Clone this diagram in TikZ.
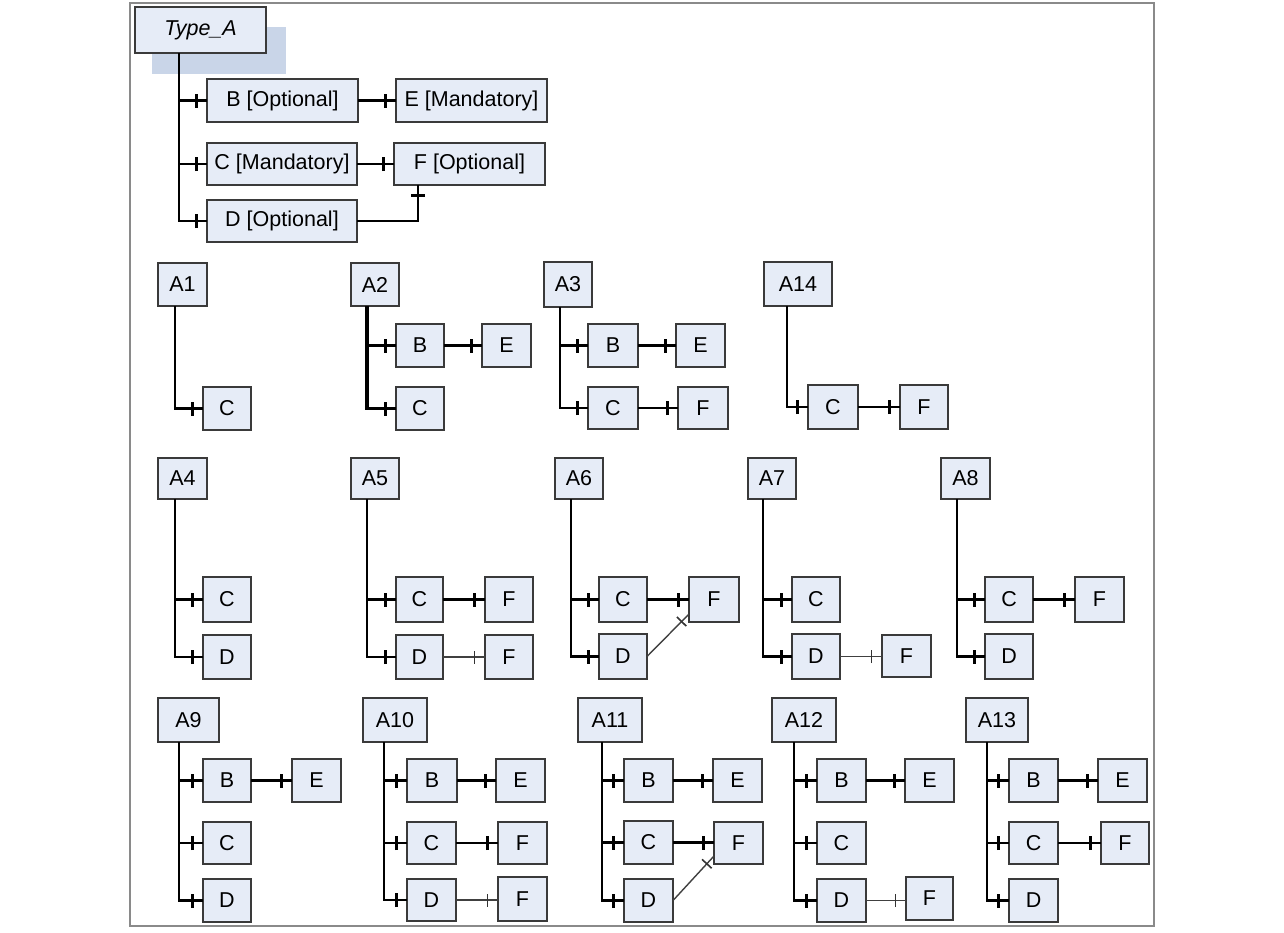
\documentclass[tikz,border=0pt]{standalone}
\usepackage{fontspec}
\setmainfont{Liberation Sans}
\usetikzlibrary{decorations.markings}
\definecolor{boxfill}{HTML}{E6ECF7}
\definecolor{boxline}{HTML}{3A3A3A}
\definecolor{shadowfill}{HTML}{C9D5E8}
\definecolor{framecol}{HTML}{8A8A8A}
\newcommand\boxfont{\fontsize{21.5}{25}\selectfont}
\newcommand\mybox[6]{\node[box,minimum width={(#4-#2)*1pt},minimum height={(#5-#3)*1pt}] (#1) at ({(#2+#4)/2},{(#3+#5)/2}) {#6};}
\tikzset{
  box/.style={draw=boxline, fill=boxfill, line width=1.8pt, inner sep=0pt, outer sep=0pt, font=\boxfont},
  link/.style={line width=2.6pt, black},
  thick link/.style={line width=3.6pt, black},
  thin link/.style={line width=1.4pt, black!75},
  tk/.style={postaction={decorate,decoration={markings,mark=at position -10.5pt with {\draw[line width=2.6pt,black] (0,-7pt)--(0,7pt);}}}},
  tkthin/.style={postaction={decorate,decoration={markings,mark=at position -10.5pt with {\draw[line width=1.6pt,black!80] (0,-6.5pt)--(0,6.5pt);}}}},
}
\begin{document}
\begin{tikzpicture}[x=1pt,y=-1pt]
\useasboundingbox (0,0) rectangle (1284,932);
\draw[framecol,line width=1.5pt] (130,3) rectangle (1154,926);

% ---------- Type_A ----------
\fill[shadowfill] (152,27) rectangle (286,74);
\mybox{t}{135}{7}{266}{53}{\itshape Type\_A}
\mybox{tb}{207}{79}{358}{122}{B [Optional]}
\mybox{te}{396}{79}{547}{122}{E [Mandatory]}
\mybox{tc}{207}{143}{357}{185}{C [Mandatory]}
\mybox{tf}{394}{143}{545}{185}{F [Optional]}
\mybox{td}{207}{200}{357}{242}{D [Optional]}
\draw[link,tk] ([xshift=44pt]t.south west) |- (tb.west);
\draw[link,tk] ([xshift=44pt]t.south west) |- (tc.west);
\draw[link,tk] ([xshift=44pt]t.south west) |- (td.west);
\draw[link,tk] (tb.east) -- (tb.east -| te.west);
\draw[link,tk] (tc.east) -- (tc.east -| tf.west);
\draw[link,tk] (td.east) -| ([xshift=24pt]tf.south west);

% ---------- A1 ----------
\mybox{a1}{158}{263}{207}{306}{A1}
\mybox{a1c}{203}{387}{251}{430}{C}
\draw[link,tk] ([xshift=17pt]a1.south west) |- (a1c.west);

% ---------- A2 ----------
\mybox{a2}{351}{263}{399}{306}{A2}
\mybox{a2b}{396}{324}{444}{367}{B}
\mybox{a2e}{482}{324}{531}{367}{E}
\mybox{a2c}{396}{387}{444}{430}{C}
\draw[thick link,tk] ([xshift=16pt]a2.south west) |- (a2b.west);
\draw[thick link,tk] ([xshift=16pt]a2.south west) |- (a2c.west);
\draw[link,tk] (a2b.east) -- (a2b.east -| a2e.west);

% ---------- A3 ----------
\mybox{a3}{544}{262}{592}{307}{A3}
\mybox{a3b}{588}{324}{638}{367}{B}
\mybox{a3e}{676}{324}{725}{367}{E}
\mybox{a3c}{588}{387}{638}{429}{C}
\mybox{a3f}{678}{387}{728}{429}{F}
\draw[link,tk] ([xshift=16pt]a3.south west) |- (a3b.west);
\draw[link,tk] ([xshift=16pt]a3.south west) |- (a3c.west);
\draw[link,tk] (a3b.east) -- (a3b.east -| a3e.west);
\draw[link,tk] (a3c.east) -- (a3c.east -| a3f.west);

% ---------- A14 ----------
\mybox{a14}{764}{262}{832}{306}{A14}
\mybox{a14c}{808}{385}{858}{429}{C}
\mybox{a14f}{900}{385}{948}{429}{F}
\draw[link,tk] ([xshift=23pt]a14.south west) |- (a14c.west);
\draw[link,tk] (a14c.east) -- (a14c.east -| a14f.west);

% ---------- A4 ----------
\mybox{a4}{158}{458}{207}{499}{A4}
\mybox{a4c}{203}{577}{251}{622}{C}
\mybox{a4d}{203}{635}{251}{679}{D}
\draw[link,tk] ([xshift=17pt]a4.south west) |- (a4c.west);
\draw[link,tk] ([xshift=17pt]a4.south west) |- (a4d.west);

% ---------- A5 ----------
\mybox{a5}{351}{458}{399}{499}{A5}
\mybox{a5c}{396}{577}{443}{622}{C}
\mybox{a5f}{485}{577}{533}{622}{F}
\mybox{a5d}{396}{635}{443}{679}{D}
\mybox{a5g}{485}{635}{533}{679}{F}
\draw[link,tk] ([xshift=16pt]a5.south west) |- (a5c.west);
\draw[link,tk] ([xshift=16pt]a5.south west) |- (a5d.west);
\draw[thick link,tk] (a5c.east) -- (a5c.east -| a5f.west);
\draw[thin link,tkthin] (a5d.east) -- (a5d.east -| a5g.west);

% ---------- A6 ----------
\mybox{a6}{555}{458}{603}{499}{A6}
\mybox{a6c}{599}{577}{647}{622}{C}
\mybox{a6f}{689}{577}{739}{622}{F}
\mybox{a6d}{599}{634}{647}{679}{D}
\draw[link,tk] ([xshift=16pt]a6.south west) |- (a6c.west);
\draw[link,tk] ([xshift=16pt]a6.south west) |- (a6d.west);
\draw[thick link,tk] (a6c.east) -- (a6c.east -| a6f.west);
\draw[thin link,tkthin] (a6d.east) -- ([yshift=8pt]a6f.south west);

% ---------- A7 ----------
\mybox{a7}{748}{458}{796}{499}{A7}
\mybox{a7c}{792}{577}{840}{622}{C}
\mybox{a7d}{792}{634}{840}{679}{D}
\mybox{a7f}{882}{635}{931}{677}{F}
\draw[link,tk] ([xshift=15pt]a7.south west) |- (a7c.west);
\draw[link,tk] ([xshift=15pt]a7.south west) |- (a7d.west);
\draw[thin link,tkthin] (a7d.east) -- (a7d.east -| a7f.west);

% ---------- A8 ----------
\mybox{a8}{941}{458}{990}{499}{A8}
\mybox{a8c}{985}{577}{1033}{622}{C}
\mybox{a8f}{1075}{577}{1124}{622}{F}
\mybox{a8d}{985}{634}{1033}{679}{D}
\draw[link,tk] ([xshift=16pt]a8.south west) |- (a8c.west);
\draw[link,tk] ([xshift=16pt]a8.south west) |- (a8d.west);
\draw[link,tk] (a8c.east) -- (a8c.east -| a8f.west);

% ---------- A9 ----------
\mybox{a9}{158}{698}{219}{742}{A9}
\mybox{a9b}{203}{759}{251}{802}{B}
\mybox{a9e}{292}{759}{341}{802}{E}
\mybox{a9c}{203}{822}{251}{864}{C}
\mybox{a9d}{203}{879}{251}{922}{D}
\draw[link,tk] ([xshift=21pt]a9.south west) |- (a9b.west);
\draw[link,tk] ([xshift=21pt]a9.south west) |- (a9c.west);
\draw[link,tk] ([xshift=21pt]a9.south west) |- (a9d.west);
\draw[link,tk] (a9b.east) -- (a9b.east -| a9e.west);

% ---------- A10 ----------
\mybox{a10}{363}{698}{427}{742}{A10}
\mybox{a10b}{407}{759}{457}{802}{B}
\mybox{a10e}{496}{759}{545}{802}{E}
\mybox{a10c}{407}{822}{456}{864}{C}
\mybox{a10f}{498}{822}{547}{864}{F}
\mybox{a10d}{407}{879}{456}{921}{D}
\mybox{a10g}{498}{877}{547}{921}{F}
\draw[link,tk] ([xshift=21pt]a10.south west) |- (a10b.west);
\draw[link,tk] ([xshift=21pt]a10.south west) |- (a10c.west);
\draw[link,tk] ([xshift=21pt]a10.south west) |- (a10d.west);
\draw[link,tk] (a10b.east) -- (a10b.east -| a10e.west);
\draw[link,tk] (a10c.east) -- (a10c.east -| a10f.west);
\draw[thin link,tkthin] (a10d.east) -- (a10d.east -| a10g.west);

% ---------- A11 ----------
\mybox{a11}{578}{698}{642}{742}{A11}
\mybox{a11b}{624}{759}{673}{802}{B}
\mybox{a11e}{713}{759}{762}{802}{E}
\mybox{a11c}{624}{821}{673}{864}{C}
\mybox{a11f}{714}{822}{763}{864}{F}
\mybox{a11d}{624}{879}{673}{922}{D}
\draw[link,tk] ([xshift=24pt]a11.south west) |- (a11b.west);
\draw[link,tk] ([xshift=24pt]a11.south west) |- (a11c.west);
\draw[link,tk] ([xshift=24pt]a11.south west) |- (a11d.west);
\draw[link,tk] (a11b.east) -- (a11b.east -| a11e.west);
\draw[link,tk] (a11c.east) -- (a11c.east -| a11f.west);
\draw[thin link,tkthin] (a11d.east) -- ([yshift=8pt]a11f.south west);

% ---------- A12 ----------
\mybox{a12}{772}{698}{836}{742}{A12}
\mybox{a12b}{817}{759}{866}{802}{B}
\mybox{a12e}{905}{759}{954}{802}{E}
\mybox{a12c}{817}{822}{866}{864}{C}
\mybox{a12d}{817}{879}{866}{922}{D}
\mybox{a12f}{906}{877}{953}{920}{F}
\draw[link,tk] ([xshift=22pt]a12.south west) |- (a12b.west);
\draw[link,tk] ([xshift=22pt]a12.south west) |- (a12c.west);
\draw[link,tk] ([xshift=22pt]a12.south west) |- (a12d.west);
\draw[link,tk] (a12b.east) -- (a12b.east -| a12e.west);
\draw[thin link,tkthin] (a12d.east) -- (a12d.east -| a12f.west);

% ---------- A13 ----------
\mybox{a13}{966}{698}{1028}{742}{A13}
\mybox{a13b}{1009}{759}{1058}{802}{B}
\mybox{a13e}{1098}{759}{1147}{802}{E}
\mybox{a13c}{1009}{822}{1058}{864}{C}
\mybox{a13f}{1101}{822}{1149}{864}{F}
\mybox{a13d}{1009}{879}{1058}{922}{D}
\draw[link,tk] ([xshift=21pt]a13.south west) |- (a13b.west);
\draw[link,tk] ([xshift=21pt]a13.south west) |- (a13c.west);
\draw[link,tk] ([xshift=21pt]a13.south west) |- (a13d.west);
\draw[link,tk] (a13b.east) -- (a13b.east -| a13e.west);
\draw[link,tk] (a13c.east) -- (a13c.east -| a13f.west);
\end{tikzpicture}
\end{document}
